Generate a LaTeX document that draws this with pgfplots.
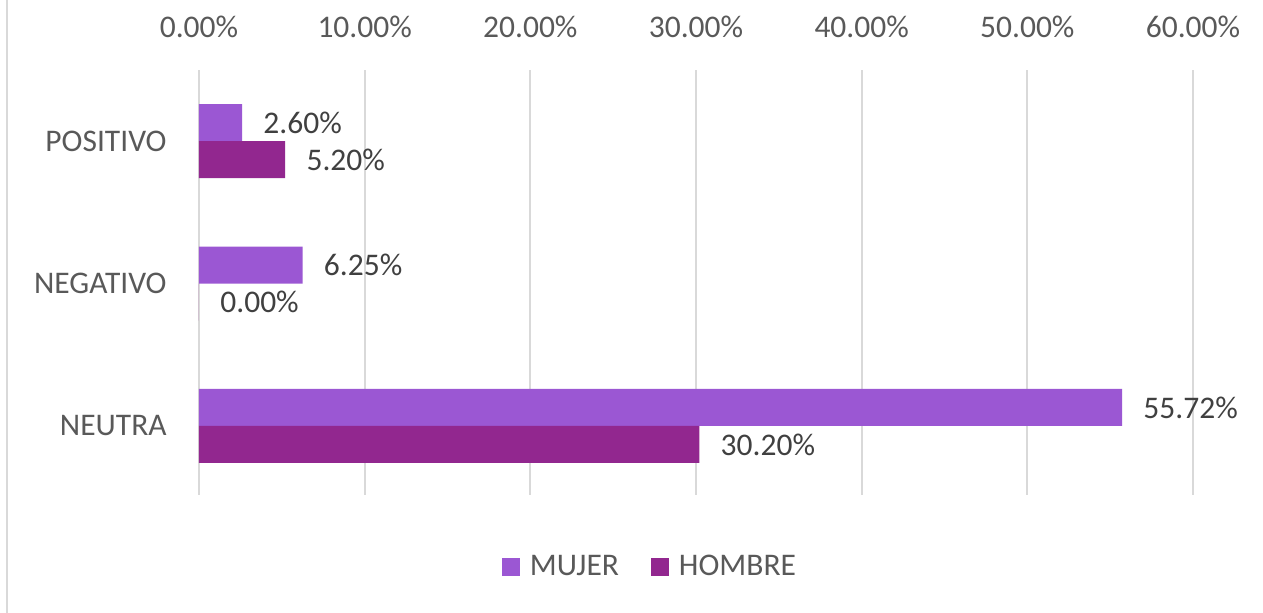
\documentclass[border=0pt]{standalone}
\usepackage{pgfplots}
\pgfplotsset{compat=1.18}
\usepackage{fontspec}
\setmainfont{Carlito}
\definecolor{mujer}{RGB}{155,87,211}
\definecolor{hombre}{RGB}{146,39,143}
\definecolor{txt}{RGB}{89,89,89}
\definecolor{lbl}{RGB}{64,64,64}
\definecolor{grd}{RGB}{217,217,217}
\begin{document}
\begin{tikzpicture}[font=\fontsize{15.75}{19}\selectfont]
\path[use as bounding box] (0,0) rectangle (631.5pt,306.5pt);
\draw[grd, line width=1pt] (3.5pt,0) -- (3.5pt,306.5pt);
\begin{axis}[
  at={(99.5pt,59pt)}, anchor=south west,
  scale only axis, width=497pt, height=212.5pt,
  xbar, bar width=18.5pt,
  xmin=0, xmax=60, ymin=-0.485, ymax=2.5,
  xtick={0,10,20,30,40,50,60},
  xticklabels={0.00\%,10.00\%,20.00\%,30.00\%,40.00\%,50.00\%,60.00\%},
  xticklabel pos=top,
  ytick={0,1,2}, yticklabels={NEUTRA,NEGATIVO,POSITIVO},
  axis line style={draw=none},
  major tick length=0pt,
  xmajorgrids, grid style={grd, line width=1pt},
  xticklabel style={inner sep=0pt, yshift=16pt, text=txt},
  yticklabel style={inner sep=0pt, xshift=-16pt, text=txt},
  /pgf/number format/assume math mode=true,
  point meta=x,
  nodes near coords={\pgfmathprintnumber[fixed,fixed zerofill,precision=2]{\pgfplotspointmeta}\%},
  nodes near coords style={anchor=west, inner sep=0pt, xshift=10.5pt, text=lbl},
  legend columns=2,
  legend style={draw=none, fill=none, at={(0.4537,-0.169)}, anchor=center,
    /tikz/every odd column/.append style={column sep=4pt},
    /tikz/every even column/.append style={column sep=15pt},
    nodes={inner sep=1pt, text=txt}},
  legend image code/.code={\fill[#1] (0pt,-4.5pt) rectangle (9pt,4.5pt);},
]
\addplot[fill=mujer, draw=none, bar shift=9.25pt] coordinates {(55.72,0) (6.25,1) (2.60,2)};
\addplot[fill=hombre, draw=none, bar shift=-9.25pt] coordinates {(30.20,0) (0.00,1) (5.20,2)};
\legend{MUJER, HOMBRE}
\end{axis}
\end{tikzpicture}
\end{document}
